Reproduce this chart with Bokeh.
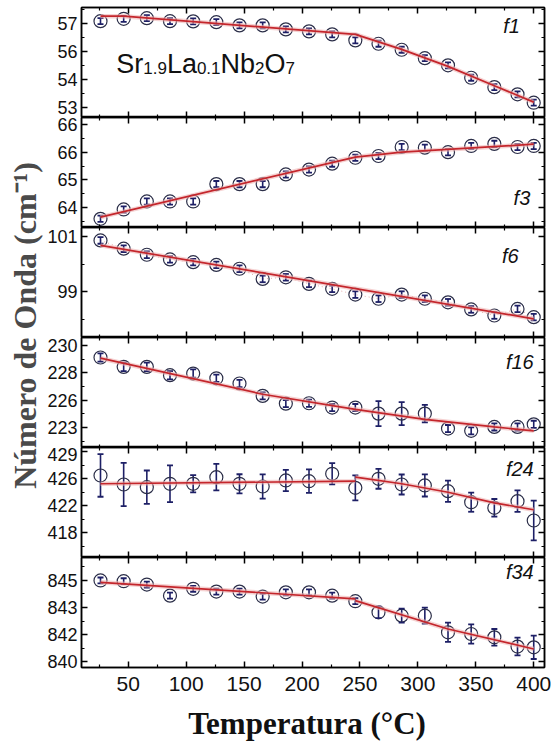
import numpy as np
from bokeh.plotting import figure
from bokeh.models import (ColumnDataSource, LinearAxis, FixedTicker, Label, Range1d,
                          NumeralTickFormatter)
from bokeh.layouts import row, column
from bokeh.embed import file_html
from bokeh.resources import INLINE

# ---------------------------------------------------------------- data
temperature = [26, 46, 66, 86, 106, 126, 146, 166, 186, 206,
               226, 246, 266, 286, 306, 326, 346, 366, 386, 400]

f1 = [57.13, 57.25, 57.28, 57.13, 57.12, 57.08, 56.92, 56.92, 56.72, 56.62,
      56.47, 56.17, 56.00, 55.70, 55.28, 54.92, 54.30, 53.83, 53.47, 53.05]
f1_err = [0.15] * 20
f1_fit_t = [26, 46, 246, 286, 326, 366, 400]
f1_fit = [57.38, 57.38, 56.47, 55.72, 54.87, 53.90, 53.08]

f3 = [63.68, 63.95, 64.18, 64.18, 64.18, 64.68, 64.68, 64.68, 64.96, 65.10,
      65.27, 65.44, 65.49, 65.75, 65.73, 65.60, 65.78, 65.84, 65.75, 65.78]
f3_err = [0.09] * 20
f3_fit_t = [26, 246, 286, 400]
f3_fit = [63.73, 65.46, 65.60, 65.83]

f6 = [100.86, 100.56, 100.34, 100.17, 100.07, 99.97, 99.83, 99.46, 99.52, 99.28,
      99.10, 98.89, 98.74, 98.89, 98.74, 98.61, 98.35, 98.13, 98.37, 98.07]
f6_err = [0.12] * 20
f6_fit_t = [26, 400]
f6_fit = [100.68, 98.01]

f16 = [229.29, 228.50, 228.50, 227.80, 227.94, 227.54, 227.10, 226.06, 225.41, 225.44,
       225.08, 225.08, 224.57, 224.57, 224.57, 223.31, 223.12, 223.45, 223.45, 223.67]
f16_err = [0.35, 0.35, 0.35, 0.35, 0.35, 0.3, 0.3, 0.3, 0.3, 0.3,
           0.3, 0.3, 1.05, 0.97, 0.73, 0.3, 0.3, 0.3, 0.3, 0.3]
f16_fit_t = [26, 166, 246, 306, 366, 400]
f16_fit = [229.23, 226.20, 224.93, 224.09, 223.45, 223.12]

f24 = [426.13, 424.90, 424.54, 425.00, 425.00, 425.90, 425.00, 424.63, 425.45, 425.35,
       426.36, 424.45, 425.68, 424.90, 424.77, 423.99, 422.49, 421.73, 422.63, 420.00]
f24_err = [2.9, 2.95, 2.27, 2.5, 1.18, 1.8, 1.3, 1.65, 1.45, 1.6,
           1.45, 1.7, 1.36, 1.36, 1.5, 1.45, 1.3, 1.2, 1.47, 2.7]
# two separate fits (low / high temperature), NaN breaks the line
f24_fit_t = [26, 246, np.nan, 246, 286, 326, 366, 400]
f24_fit = [425.00, 425.35, np.nan, 425.90, 425.00, 423.85, 422.40, 421.46]

f34 = [844.58, 844.54, 844.36, 843.76, 844.13, 843.98, 843.98, 843.71, 843.94, 843.94,
       843.76, 843.46, 842.86, 842.68, 842.68, 841.78, 841.69, 841.51, 841.01, 840.97]
f34_err = [0.16] * 12 + [0.31, 0.38, 0.43, 0.52, 0.52, 0.45, 0.48, 0.63]
f34_fit_t = [26, 246, np.nan, 246, 326, 400]
f34_fit = [844.48, 843.59, np.nan, 843.49, 841.96, 840.88]

# y ticks of every panel (labels are these values rounded to integers)
f1_ticks = [52.8, 54.2, 55.6, 57.0]
f3_ticks = [64.0, 64.8, 65.6, 66.4]
f6_ticks = [99.0, 101.0]
f16_ticks = [223.4, 225.7, 228.0, 230.3]
f24_ticks = [418.3, 422.0, 425.7, 429.4]
f34_ticks = [840.2, 841.66, 843.12, 844.58]

x_major = [50, 100, 150, 200, 250, 300, 350, 400]
x_minor = [25, 75, 125, 175, 225, 275, 325, 375]

panels = [
    dict(name="f1", y=f1, err=f1_err, fit_t=f1_fit_t, fit=f1_fit,
         yr=(52.31, 57.815), ticks=f1_ticks, tag_xy=(388, 56.91)),
    dict(name="f3", y=f3, err=f3_err, fit_t=f3_fit_t, fit=f3_fit,
         yr=(63.43, 66.60), ticks=f3_ticks, tag_xy=(397, 64.27)),
    dict(name="f6", y=f6, err=f6_err, fit_t=f6_fit_t, fit=f6_fit,
         yr=(97.33, 101.33), ticks=f6_ticks, tag_xy=(387, 100.31)),
    dict(name="f16", y=f16, err=f16_err, fit_t=f16_fit_t, fit=f16_fit,
         yr=(221.72, 230.97), ticks=f16_ticks, tag_xy=(400, 228.87)),
    dict(name="f24", y=f24, err=f24_err, fit_t=f24_fit_t, fit=f24_fit,
         yr=(414.96, 429.94), ticks=f24_ticks, tag_xy=(400, 427.08)),
    dict(name="f34", y=f34, err=f34_err, fit_t=f34_fit_t, fit=f34_fit,
         yr=(839.88, 845.82), ticks=f34_ticks, tag_xy=(400, 845.06)),
]

SANS = "Liberation Sans"
SERIF = "Liberation Serif"
INK = "#1d1f66"
RING = "#2b2e48"
RED = "#c4262c"

FRAME_W, FRAME_H = 463, 110
TITLE_W = 44
TOP_PAD, BOTTOM_PAD = 7, 34
XTITLE_H = 742 - TOP_PAD - FRAME_H * len(panels) - BOTTOM_PAD
TOTAL_H = TOP_PAD + FRAME_H * len(panels) + BOTTOM_PAD + XTITLE_H


def style_axis(ax, show_labels, size="18px"):
    ax.axis_line_color = "black"
    ax.axis_line_width = 1.5
    ax.major_tick_in = 6
    ax.major_tick_out = 0
    ax.minor_tick_in = 3
    ax.minor_tick_out = 0
    ax.major_tick_line_width = 1.5
    ax.minor_tick_line_width = 1.2
    ax.major_tick_line_color = "black"
    ax.minor_tick_line_color = "black"
    ax.axis_label = None
    if show_labels:
        ax.major_label_text_font = SANS
        ax.major_label_text_font_size = size
        ax.major_label_text_color = "#111111"
    else:
        ax.major_label_text_color = None
        ax.major_label_standoff = 0


def blank_figure(w, h):
    f = figure(width=w, height=h, x_range=Range1d(0, w), y_range=Range1d(0, h),
               output_backend="svg", toolbar_location=None,
               x_axis_location=None, y_axis_location=None,
               min_border=0, outline_line_color=None,
               background_fill_color="white", border_fill_color="white")
    f.grid.visible = False
    return f


figs = []
n = len(panels)
for i, pan in enumerate(panels):
    first, last = i == 0, i == n - 1
    p = figure(frame_width=FRAME_W, frame_height=FRAME_H,
               x_range=Range1d(9.6, 409.3), y_range=Range1d(*pan["yr"]),
               output_backend="svg", toolbar_location=None,
               min_border_left=81 - TITLE_W, min_border_right=9,
               min_border_top=TOP_PAD if first else 0,
               min_border_bottom=BOTTOM_PAD if last else 0,
               outline_line_color="black", outline_line_width=1.5,
               background_fill_color="white", border_fill_color="white")
    p.grid.visible = False

    xt = FixedTicker(ticks=x_major, minor_ticks=x_minor)
    major = pan["ticks"]
    step = major[1] - major[0]
    minor = [t + step / 2 for t in major] + [major[0] - step / 2]
    yt = FixedTicker(ticks=major, minor_ticks=minor)

    bx = p.xaxis[0]
    bx.ticker = xt
    style_axis(bx, last, "21px")
    bx.major_label_standoff = 9 if last else 0

    ly = p.yaxis[0]
    ly.ticker = yt
    ly.formatter = NumeralTickFormatter(format="0")
    style_axis(ly, True, "18px")
    ly.major_label_standoff = 4

    top = LinearAxis(ticker=xt)
    style_axis(top, False)
    p.add_layout(top, "above")
    rgt = LinearAxis(ticker=yt)
    style_axis(rgt, False)
    p.add_layout(rgt, "right")

    t = np.array(temperature, dtype=float)
    v = np.array(pan["y"])
    e = np.array(pan["err"])
    src = ColumnDataSource(dict(t=t, v=v, lo=v - e, hi=v + e))
    fsrc = ColumnDataSource(dict(t=pan["fit_t"], v=pan["fit"]))

    if pan["name"] == "f6":
        p.line("t", "v", source=src, line_color="#d98a8a", line_width=1,
               line_dash="1 3", line_alpha=0.7)

    # error bars and open circles
    p.segment(x0="t", y0="lo", x1="t", y1="hi", source=src,
              line_color=INK, line_width=1.6)
    p.scatter("t", "v", source=src, marker="circle", size=13,
              fill_color="white", fill_alpha=0.0, line_color=RING, line_width=1.2)
    p.scatter("t", "hi", source=src, marker="dash", size=6,
              line_color=INK, line_width=1.8)
    p.scatter("t", "lo", source=src, marker="dash", size=6,
              line_color=INK, line_width=1.8)

    # fitted curve with a faint halo
    p.line("t", "v", source=fsrc, line_color="#eeb4b4", line_width=4.5, line_alpha=0.6)
    p.line("t", "v", source=fsrc, line_color=RED, line_width=1.7)

    tx, ty = pan["tag_xy"]
    p.add_layout(Label(x=tx, y=ty, text=pan["name"], text_font=SANS,
                       text_font_style="italic", text_font_size="20px",
                       text_align="right", text_baseline="middle",
                       text_color="#111111"))
    figs.append(p)

# chemical formula in the first panel, subscripts as smaller text on the same baseline
ADV = {"S": 0.667, "r": 0.333, "L": 0.556, "a": 0.556, "N": 0.722, "b": 0.556,
       "O": 0.778, "0": 0.556, "1": 0.556, "2": 0.556, "7": 0.556, "9": 0.556, ".": 0.278}
formula = [("Sr", False), ("1.9", True), ("La", False), ("0.1", True),
           ("Nb", False), ("2", True), ("O", False), ("7", True)]
BIG, SMALL = 27, 17
BIG_Y, SMALL_Y = 54.97, 54.79
off = 0.0
for txt, sub in formula:
    fs = SMALL if sub else BIG
    figs[0].add_layout(Label(x=39.6, y=SMALL_Y if sub else BIG_Y, x_offset=off, text=txt,
                             text_font=SANS, text_font_size=f"{fs}px",
                             text_baseline="middle", text_color="#111111"))
    off += sum(ADV[c] for c in txt) * fs

# x axis title in a strip under the panels
panel_w = 81 - TITLE_W + FRAME_W + 9
xstrip = blank_figure(panel_w, XTITLE_H)
xstrip.add_layout(Label(x=292 - TITLE_W, y=19.5, text="Temperatura (°C)",
                        text_font=SERIF, text_font_style="bold", text_font_size="31px",
                        text_align="center", text_baseline="middle",
                        text_color="#111111"))

# shared y axis title in a narrow strip on the left
ystrip = blank_figure(TITLE_W, TOTAL_H)
ystrip.add_layout(Label(x=24, y=TOTAL_H - 325, text="Número de Onda (cm⁻¹)",
                        text_font=SERIF, text_font_style="bold", text_font_size="32px",
                        text_align="center", text_baseline="middle", angle=np.pi / 2,
                        text_color="#4a4a4a"))

layout = row(ystrip, column(*figs, xstrip, spacing=0), spacing=0)

open("out.html", "w").write(file_html(layout, INLINE))
